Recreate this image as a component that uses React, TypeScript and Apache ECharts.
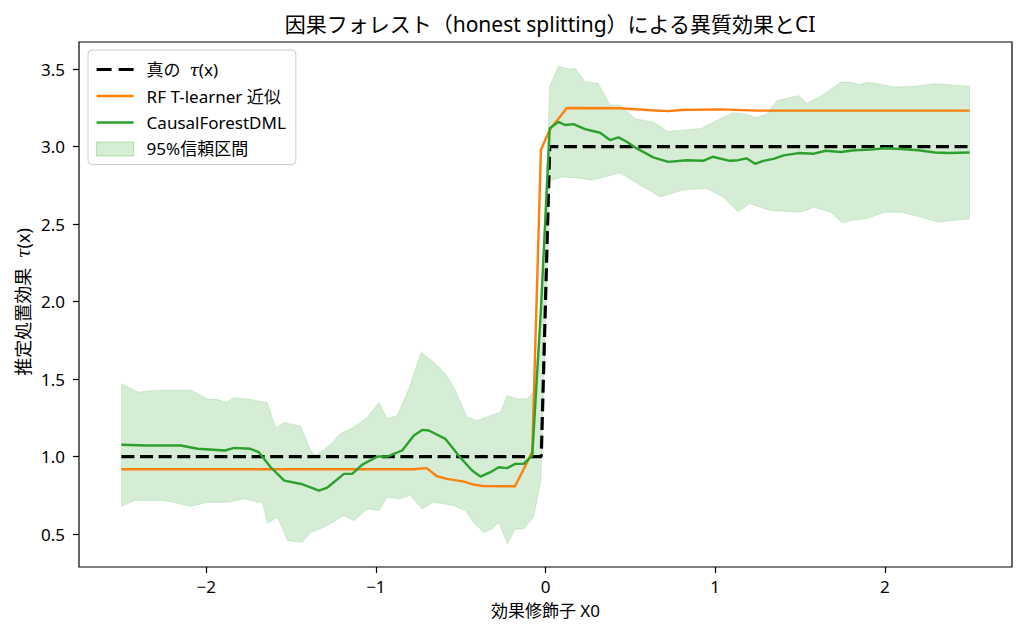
import * as echarts from "echarts";
import { useEffect, useRef } from "react";

const FONT = '"Noto Sans", "Noto Sans CJK JP", sans-serif';

const xTicks = [-2, -1, 0, 1, 2];
const yTicks = [0.5, 1.0, 1.5, 2.0, 2.5, 3.0, 3.5];

// true treatment effect (step at 0)
const trueTau: [number, number][] = [
  [-2.5, 1.0], [-0.025, 1.0], [0.025, 3.0], [2.5, 3.0]
];

// RF T-learner estimate
const rfTLearner: [number, number][] = [
  [-2.5, 0.918], [-0.78, 0.918], [-0.7, 0.925], [-0.64, 0.873], [-0.58, 0.856],
  [-0.48, 0.838], [-0.43, 0.82], [-0.37, 0.81], [-0.18, 0.808], [-0.128, 0.92],
  [-0.078, 1.03], [-0.027, 2.98], [0.025, 3.11], [0.126, 3.25], [0.44, 3.248],
  [0.6, 3.237], [0.72, 3.23], [0.8, 3.237], [1.03, 3.241], [1.25, 3.233], [2.5, 3.233]
];

// CausalForestDML estimate
const causalForest: [number, number][] = [
  [-2.5, 1.076], [-2.35, 1.071], [-2.15, 1.071], [-2.05, 1.05], [-1.89, 1.039],
  [-1.835, 1.056], [-1.74, 1.05], [-1.69, 1.028], [-1.62, 0.931], [-1.54, 0.845],
  [-1.44, 0.823], [-1.335, 0.78], [-1.286, 0.8], [-1.188, 0.888], [-1.139, 0.888],
  [-1.08, 0.948], [-0.99, 1.0], [-0.933, 1.0], [-0.845, 1.039], [-0.776, 1.136],
  [-0.727, 1.172], [-0.688, 1.168], [-0.59, 1.114], [-0.512, 1.006], [-0.433, 0.91],
  [-0.384, 0.871], [-0.325, 0.899], [-0.276, 0.931], [-0.227, 0.925], [-0.178, 0.953],
  [-0.129, 0.953], [-0.078, 1.006], [-0.027, 1.95], [0.025, 3.12], [0.076, 3.16],
  [0.116, 3.14], [0.165, 3.146], [0.233, 3.114], [0.322, 3.09], [0.38, 3.043],
  [0.43, 3.06], [0.479, 3.032], [0.538, 2.989], [0.635, 2.931], [0.724, 2.902],
  [0.832, 2.913], [0.929, 2.909], [0.985, 2.935], [1.087, 2.909], [1.135, 2.913],
  [1.185, 2.925], [1.235, 2.89], [1.284, 2.909], [1.344, 2.922], [1.404, 2.944],
  [1.492, 2.959], [1.582, 2.955], [1.652, 2.974], [1.741, 2.966], [1.82, 2.977],
  [1.919, 2.981], [1.999, 2.99], [2.098, 2.985], [2.198, 2.977], [2.296, 2.963],
  [2.376, 2.959], [2.5, 2.963]
];

// 95% CI bounds
const ciUpper: [number, number][] = [
  [-2.5, 1.47], [-2.4, 1.415], [-2.315, 1.427], [-2.09, 1.43], [-1.99, 1.37],
  [-1.94, 1.37], [-1.88, 1.35], [-1.835, 1.38], [-1.737, 1.37], [-1.64, 1.345],
  [-1.59, 1.185], [-1.54, 1.22], [-1.443, 1.195], [-1.384, 1.04], [-1.355, 1.006],
  [-1.266, 1.08], [-1.21, 1.147], [-1.13, 1.19], [-1.05, 1.254], [-0.982, 1.35],
  [-0.933, 1.244], [-0.874, 1.265], [-0.806, 1.437], [-0.733, 1.674], [-0.659, 1.61],
  [-0.59, 1.535], [-0.531, 1.427], [-0.462, 1.254], [-0.404, 1.233], [-0.325, 1.265],
  [-0.266, 1.286], [-0.227, 1.394], [-0.168, 1.373], [-0.109, 1.373], [-0.07, 1.415],
  [-0.027, 1.85], [0.025, 3.39], [0.076, 3.52], [0.145, 3.5], [0.175, 3.506],
  [0.233, 3.42], [0.31, 3.41], [0.38, 3.27], [0.44, 3.27], [0.528, 3.18],
  [0.635, 3.16], [0.72, 3.1], [0.81, 3.107], [0.92, 3.118], [0.99, 3.16],
  [1.106, 3.22], [1.165, 3.215], [1.245, 3.188], [1.304, 3.21], [1.364, 3.297],
  [1.492, 3.33], [1.542, 3.28], [1.612, 3.32], [1.671, 3.363], [1.741, 3.417],
  [1.8, 3.417], [1.85, 3.4], [1.9, 3.417], [1.979, 3.402], [2.058, 3.385],
  [2.178, 3.39], [2.296, 3.407], [2.376, 3.4], [2.5, 3.39]
];

const ciLower: [number, number][] = [
  [-2.5, 0.679], [-2.42, 0.716], [-2.247, 0.716], [-2.09, 0.679], [-1.99, 0.705],
  [-1.874, 0.705], [-1.776, 0.727], [-1.698, 0.705], [-1.668, 0.705], [-1.64, 0.569],
  [-1.58, 0.608], [-1.52, 0.457], [-1.433, 0.446], [-1.384, 0.51], [-1.306, 0.543],
  [-1.188, 0.619], [-1.13, 0.586], [-1.05, 0.662], [-0.982, 0.651], [-0.933, 0.737],
  [-0.865, 0.727], [-0.796, 0.748], [-0.727, 0.662], [-0.659, 0.705], [-0.541, 0.683],
  [-0.472, 0.651], [-0.424, 0.575], [-0.365, 0.51], [-0.315, 0.533], [-0.276, 0.575],
  [-0.224, 0.436], [-0.178, 0.533], [-0.129, 0.533], [-0.07, 0.608], [-0.027, 0.85],
  [0.025, 2.78], [0.106, 2.805], [0.214, 2.795], [0.273, 2.784], [0.44, 2.83],
  [0.528, 2.773], [0.675, 2.676], [0.81, 2.72], [0.95, 2.73], [1.047, 2.676],
  [1.135, 2.58], [1.204, 2.633], [1.263, 2.61], [1.324, 2.588], [1.502, 2.577],
  [1.582, 2.61], [1.681, 2.577], [1.751, 2.507], [1.8, 2.523], [1.899, 2.538],
  [1.999, 2.577], [2.098, 2.577], [2.217, 2.544], [2.316, 2.512], [2.396, 2.523],
  [2.5, 2.534]
];

const BAND_FILL = "rgba(44,160,44,0.2)";
const TRUE_NAME = "真の τ(x)";
const NO_SYMBOL = { opacity: 0 };

const italicTau = { fontFamily: "DejaVu Serif", fontStyle: "italic", fontSize: 17, color: "#000" };

export default function App() {
  const ref = useRef<HTMLDivElement>(null);

  useEffect(() => {
    if (!ref.current) return;
    const chart = echarts.init(ref.current, null, { renderer: "svg" });

    const bandPoly = [...ciUpper, ...ciLower.slice().reverse()];

    chart.setOption({
      animation: false,
      backgroundColor: "#fff",
      textStyle: { fontFamily: FONT },
      title: {
        text: "因果フォレスト（honest splitting）による異質効果とCI",
        left: 545,
        top: 8,
        textAlign: "center",
        textStyle: { fontFamily: FONT, fontSize: 21, fontWeight: "normal", color: "#000" }
      },
      grid: {
        left: 79,
        right: 12,
        top: 42,
        bottom: 69,
        show: true,
        borderColor: "#000",
        borderWidth: 1.2,
        backgroundColor: "transparent"
      },
      legend: {
        orient: "vertical",
        left: 88,
        top: 50,
        padding: [11, 10, 7, 7],
        itemWidth: 37,
        itemHeight: 14,
        itemGap: 9.5,
        backgroundColor: "rgba(255,255,255,0.8)",
        borderColor: "#cccccc",
        borderWidth: 1,
        borderRadius: 4,
        selectedMode: false,
        formatter: (name: string) => (name === TRUE_NAME ? "真の  {i|τ}(x)" : name),
        textStyle: {
          fontFamily: FONT,
          fontSize: 17,
          color: "#000",
          padding: [0, 0, 0, 8],
          rich: { i: italicTau }
        },
        data: [
          { name: TRUE_NAME, itemStyle: NO_SYMBOL, lineStyle: { color: "#000", width: 3.2, type: [15, 7] } },
          { name: "RF T-learner 近似", itemStyle: NO_SYMBOL, lineStyle: { color: "#ff7f0e", width: 2.4 } },
          { name: "CausalForestDML", itemStyle: NO_SYMBOL, lineStyle: { color: "#2ca02c", width: 2.4 } },
          {
            name: "95%信頼区間",
            icon: "rect",
            itemStyle: { color: BAND_FILL, borderColor: "rgba(44,160,44,0.3)", borderWidth: 1 }
          }
        ]
      },
      xAxis: {
        type: "value",
        min: -2.75,
        max: 2.75,
        name: "効果修飾子 X0",
        nameLocation: "middle",
        nameGap: 35,
        nameTextStyle: { fontFamily: FONT, fontSize: 17, color: "#000" },
        axisLine: { show: false, onZero: false },
        splitLine: { show: false },
        axisTick: { show: true, length: 6, customValues: xTicks, lineStyle: { color: "#000", width: 1.2 } },
        axisLabel: {
          customValues: xTicks,
          margin: 11,
          fontFamily: FONT,
          fontSize: 17,
          color: "#000",
          formatter: (v: number) => (v < 0 ? "\u2212" + Math.abs(v) : String(v))
        }
      },
      yAxis: {
        type: "value",
        min: 0.287,
        max: 3.676,
        axisLine: { show: false, onZero: false },
        splitLine: { show: false },
        axisTick: { show: true, length: 6, customValues: yTicks, lineStyle: { color: "#000", width: 1.2 } },
        axisLabel: {
          customValues: yTicks,
          margin: 14,
          fontFamily: FONT,
          fontSize: 17,
          color: "#000",
          formatter: (v: number) => v.toFixed(1)
        }
      },
      graphic: [
        {
          type: "text",
          x: 23,
          y: 302,
          rotation: Math.PI / 2,
          style: {
            text: "推定処置効果  {i|τ}(x)",
            fontFamily: FONT,
            fontSize: 18,
            fill: "#000",
            textAlign: "center",
            textVerticalAlign: "middle",
            rich: { i: { fontFamily: "DejaVu Serif", fontStyle: "italic", fontSize: 18, fill: "#000" } }
          }
        }
      ],
      series: [
        {
          name: "95%信頼区間",
          type: "custom",
          z: 1,
          itemStyle: { color: BAND_FILL },
          data: [[0, 1]],
          renderItem: (_params: any, api: any) => ({
            type: "polygon",
            shape: { points: bandPoly.map((p) => api.coord(p)) },
            style: { fill: BAND_FILL, stroke: "rgba(44,160,44,0.15)", lineWidth: 1 }
          })
        },
        {
          name: TRUE_NAME,
          type: "line",
          z: 2,
          symbol: "none",
          data: trueTau,
          lineStyle: { color: "#000", width: 3.2, type: [13, 5.6] },
          itemStyle: { color: "#000" }
        },
        {
          name: "RF T-learner 近似",
          type: "line",
          z: 3,
          symbol: "none",
          data: rfTLearner,
          lineStyle: { color: "#ff7f0e", width: 2.4 },
          itemStyle: { color: "#ff7f0e" }
        },
        {
          name: "CausalForestDML",
          type: "line",
          z: 4,
          symbol: "none",
          data: causalForest,
          lineStyle: { color: "#2ca02c", width: 2.4 },
          itemStyle: { color: "#2ca02c" }
        }
      ]
    });

    return () => chart.dispose();
  }, []);

  return (
    <div
      ref={ref}
      style={{ position: "fixed", left: 0, top: 0, width: 1024, height: 636, background: "#fff" }}
    />
  );
}
